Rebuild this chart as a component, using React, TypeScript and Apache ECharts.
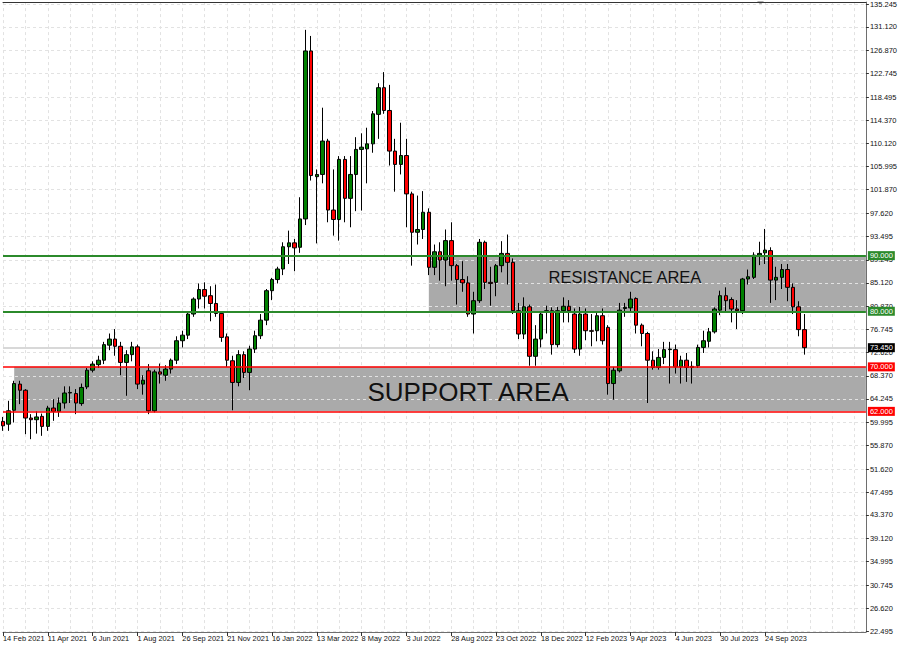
import React, { useEffect, useRef } from "react";
import * as echarts from "echarts";

// X-axis tick labels (every 8 weeks)
const dateLabels = [
  "14 Feb 2021", "11 Apr 2021", "6 Jun 2021", "1 Aug 2021", "26 Sep 2021", "21 Nov 2021",
  "16 Jan 2022", "13 Mar 2022", "8 May 2022", "3 Jul 2022", "28 Aug 2022", "23 Oct 2022",
  "18 Dec 2022", "12 Feb 2023", "9 Apr 2023", "4 Jun 2023", "30 Jul 2023", "24 Sep 2023",
];

// Y-axis tick labels
const priceTicks = [
  22.495, 26.62, 30.745, 34.995, 39.12, 43.37, 47.495, 51.62, 55.87, 59.995, 64.245, 68.37,
  72.62, 76.745, 80.87, 85.12, 89.245, 93.495, 97.62, 101.87, 105.995, 110.12, 114.37,
  118.495, 122.745, 126.87, 131.12, 135.245,
];

// Weekly OHLC
const opens = [
  60.2, 59.7, 62.2, 66.9, 65.8, 60.8, 60.5, 61.1, 59.3, 62.6, 62.0, 63.5, 65.3, 65.2, 63.4, 66.4,
  69.4, 70.4, 71.2, 73.9, 75.0, 73.7, 70.8, 72.2, 73.6, 66.9, 69.3, 62.1, 69.1, 68.5, 69.6, 71.2,
  74.7, 75.7, 79.5, 82.2, 83.9, 82.8, 81.4, 79.6, 75.4, 71.1, 67.2, 72.2, 69.0, 73.2, 75.6, 78.4,
  83.7, 85.7, 87.6, 91.6, 92.3, 91.5, 96.6, 126.8, 104.2, 104.6, 110.6, 98.2, 96.5, 107.3, 100.3, 104.6,
  109.1, 109.2, 110.1, 115.4, 120.2, 116.1, 108.8, 106.4, 108.0, 101.1, 94.2, 94.7, 97.8, 87.9, 90.7, 89.2,
  92.7, 88.2, 85.7, 85.1, 79.5, 81.9, 92.4, 85.2, 85.2, 88.2, 90.4, 88.8, 80.1, 75.9, 80.8, 71.9,
  75.0, 80.0, 80.1, 74.0, 80.1, 80.9, 79.5, 73.2, 79.5, 76.5, 76.5, 79.2, 77.1, 67.0, 69.3, 80.5,
  80.6, 82.3, 77.5, 76.0, 71.2, 69.9, 71.7, 73.1, 73.1, 70.0, 71.2, 70.1, 70.2, 73.5, 74.6, 76.3,
  80.2, 82.8, 82.1, 80.4, 80.1, 85.8, 86.1, 90.1, 90.5, 90.9, 85.6, 86.1, 87.5, 84.3, 80.8, 76.7,
];
const closes = [
  59.4, 62.1, 67.0, 65.8, 60.8, 60.5, 61.0, 59.3, 62.6, 62.0, 63.5, 65.3, 65.4, 63.5, 66.3, 69.4,
  70.5, 71.2, 74.0, 75.0, 73.7, 70.8, 72.2, 73.6, 66.9, 67.6, 62.1, 69.1, 68.7, 69.6, 71.2, 74.7,
  75.7, 79.5, 82.2, 83.9, 82.7, 81.4, 79.6, 75.3, 71.2, 67.2, 72.2, 69.0, 73.2, 75.6, 78.4, 83.7,
  85.7, 87.6, 91.6, 92.3, 91.4, 96.6, 126.8, 104.4, 104.6, 110.6, 98.2, 96.5, 107.3, 100.3, 104.6, 109.1,
  109.5, 110.1, 115.5, 120.2, 116.1, 108.8, 106.4, 108.0, 101.1, 94.2, 94.7, 97.8, 87.9, 90.7, 89.2, 92.7,
  88.2, 85.7, 85.1, 79.5, 81.9, 92.4, 85.2, 85.0, 88.2, 90.4, 88.8, 80.1, 75.9, 80.8, 71.9, 75.0,
  79.5, 80.1, 74.0, 80.1, 80.9, 80.1, 73.2, 79.5, 76.5, 76.4, 79.2, 74.7, 67.0, 69.4, 80.2, 80.7,
  82.2, 77.5, 76.0, 71.2, 69.9, 71.7, 73.1, 73.2, 70.0, 71.2, 69.9, 69.9, 73.5, 74.7, 76.3, 80.4,
  82.8, 81.9, 80.4, 80.1, 85.8, 86.2, 90.1, 90.4, 91.0, 85.6, 86.1, 87.5, 84.3, 80.8, 76.7, 73.45,
];
const lows = [
  58.5, 58.5, 60.0, 63.3, 57.9, 57.0, 58.0, 57.6, 58.5, 60.3, 61.0, 62.5, 63.5, 61.5, 63.0, 66.0,
  69.0, 69.8, 70.5, 73.0, 72.0, 68.5, 64.8, 71.0, 66.0, 65.0, 61.5, 61.8, 67.0, 67.5, 68.8, 70.5,
  73.5, 75.0, 79.0, 80.5, 80.5, 78.2, 79.0, 74.5, 70.0, 62.2, 66.5, 68.0, 65.8, 72.5, 75.0, 77.5,
  82.0, 85.0, 86.5, 88.5, 87.2, 90.5, 95.5, 103.5, 92.2, 103.0, 96.0, 93.6, 92.7, 96.0, 95.1, 98.0,
  98.1, 103.0, 108.5, 111.0, 115.5, 106.2, 101.5, 104.6, 95.1, 88.2, 92.0, 93.0, 86.5, 86.5, 85.5, 84.5,
  85.5, 81.2, 83.5, 79.0, 76.0, 81.5, 84.0, 81.0, 82.7, 87.0, 84.8, 79.5, 75.0, 75.0, 70.2, 70.2,
  73.5, 76.0, 72.2, 73.5, 78.0, 78.0, 72.5, 72.0, 74.8, 73.7, 74.6, 74.0, 65.0, 64.1, 69.0, 79.0,
  80.0, 76.0, 73.7, 63.5, 69.5, 69.5, 70.5, 67.0, 68.8, 67.0, 67.3, 67.0, 69.8, 72.5, 73.5, 76.0,
  79.3, 80.0, 78.0, 76.8, 79.5, 84.8, 85.8, 88.3, 88.5, 81.5, 82.0, 84.0, 81.8, 79.5, 75.5, 72.2,
];
const highs = [
  61.0, 63.9, 67.5, 67.5, 66.0, 61.5, 62.0, 61.6, 63.0, 64.2, 64.5, 66.5, 66.5, 66.0, 67.0, 69.8,
  71.0, 72.0, 74.5, 76.0, 76.8, 74.5, 73.0, 74.5, 74.0, 68.5, 70.5, 69.5, 70.6, 70.3, 71.5, 75.5,
  76.5, 80.0, 82.5, 85.0, 85.2, 84.5, 84.8, 80.0, 76.0, 72.0, 73.0, 72.8, 73.8, 76.5, 79.5, 84.0,
  86.0, 88.0, 92.4, 94.5, 93.0, 100.5, 130.6, 129.5, 105.5, 116.6, 111.0, 105.5, 107.9, 107.9, 107.9, 111.3,
  112.0, 113.0, 116.0, 121.0, 123.0, 120.7, 111.0, 113.9, 111.0, 101.5, 100.8, 101.6, 98.5, 92.0, 92.4, 94.7,
  96.0, 88.5, 89.0, 86.3, 83.5, 93.0, 92.7, 88.0, 88.5, 92.6, 93.8, 89.5, 81.5, 82.5, 81.2, 77.5,
  80.0, 81.0, 80.7, 80.8, 82.5, 82.0, 80.5, 80.8, 80.5, 79.5, 80.0, 80.5, 77.5, 70.0, 81.5, 81.5,
  83.5, 82.5, 77.8, 76.3, 72.8, 73.2, 74.5, 74.5, 74.0, 72.0, 72.5, 71.0, 74.0, 76.5, 77.0, 80.7,
  83.7, 84.3, 82.5, 82.0, 86.0, 87.5, 90.6, 92.5, 94.8, 91.5, 88.0, 88.5, 88.5, 85.0, 81.8, 79.5,
];

const supportLevels = [70, 62];
const resistanceLevels = [90, 80];
const currentPrice = 73.45;

const SLOTS = 155; // weekly slots incl. empty right margin

export default function App() {
  const ref = useRef<HTMLDivElement | null>(null);

  useEffect(() => {
    if (!ref.current) return;
    const chart = echarts.init(ref.current, undefined, { renderer: "svg" });

    const start = Date.UTC(2021, 1, 14);
    const categories: string[] = [];
    for (let i = 0; i < SLOTS; i++) {
      const d = new Date(start + i * 7 * 86400000);
      categories.push(d.toISOString().slice(0, 10));
    }
    const nBars = opens.length;
    const candleData = opens.map((o, i) => [o, closes[i], lows[i], highs[i]]);
    const font = "'Liberation Sans', Arial, sans-serif";
    const lastCat = categories[SLOTS - 1];

    const levelLine = (v: number, color: string, width: number) => ({
      yAxis: v,
      lineStyle: { color, width, type: "solid" },
      label: {
        show: true,
        position: "end",
        distance: 2,
        formatter: v.toFixed(3),
        backgroundColor: color,
        color: "#fff",
        fontSize: 7.5,
        fontFamily: font,
        padding: [1, 2, 0, 2],
      },
    });

    chart.setOption({
      animation: false,
      backgroundColor: "#ffffff",
      grid: { left: 1, right: 31, top: 1, bottom: 14, containLabel: false },
      xAxis: [
        {
          type: "category",
          data: categories,
          boundaryGap: false,
          axisLine: { show: true, lineStyle: { color: "#6e6e6e", width: 1 } },
          axisTick: {
            show: true,
            interval: (i: number) => i % 8 === 0 && i < nBars,
            length: 4,
            lineStyle: { color: "#333" },
          },
          axisLabel: {
            show: true,
            interval: (i: number) => i % 8 === 0 && i < nBars,
            formatter: (_v: string, i: number) => dateLabels[i / 8] ?? "",
            align: "left",
            margin: 3,
            fontSize: 7.4,
            fontFamily: font,
            color: "#111",
          },
          splitLine: {
            show: true,
            interval: (i: number) => i % 4 === 0,
            lineStyle: { color: "#e2e2e2", type: [3, 3], width: 1 },
          },
        },
        {
          type: "category",
          data: categories,
          boundaryGap: false,
          position: "top",
          axisLine: { show: true, lineStyle: { color: "#333", width: 1 } },
          axisTick: { show: false },
          axisLabel: { show: false },
          splitLine: { show: false },
        },
      ],
      yAxis: {
        type: "value",
        position: "right",
        min: 22.33,
        max: 135.59,
        scale: true,
        axisLine: { show: true, lineStyle: { color: "#6e6e6e", width: 1 } },
        axisTick: { show: true, length: 3, customValues: priceTicks, lineStyle: { color: "#333" } },
        axisLabel: {
          show: true,
          customValues: priceTicks,
          formatter: (v: number) => v.toFixed(3),
          margin: 4,
          fontSize: 7.5,
          fontFamily: font,
          color: "#111",
        },
        splitLine: { show: false },
      },
      graphic: [
        {
          type: "polygon",
          shape: { points: [[757, 1], [764, 1], [760.5, 5]] },
          style: { fill: "#b0b0b0" },
          silent: true,
        },
      ],
      series: [
        {
          name: "areas",
          type: "line",
          data: [],
          z: 1,
          silent: true,
          markArea: {
            silent: true,
            z: 1,
            itemStyle: { color: "#aaaaaa", opacity: 1 },
            label: { show: false },
            data: [
              [
                { xAxis: categories[2], yAxis: supportLevels[0] },
                { xAxis: lastCat, yAxis: supportLevels[1] },
              ],
              [
                { xAxis: categories[76], yAxis: resistanceLevels[0] },
                { xAxis: lastCat, yAxis: resistanceLevels[1] },
              ],
            ],
          },
        },
        {
          name: "grid",
          type: "line",
          data: [],
          silent: true,
          markLine: {
            silent: true,
            z: 2,
            symbol: ["none", "none"],
            label: { show: false },
            lineStyle: { color: "#e2e2e2", type: [3, 3], width: 1 },
            data: priceTicks.map((v) => ({ yAxis: v })),
          },
        },
        {
          name: "current",
          type: "line",
          data: [],
          silent: true,
          markLine: {
            silent: true,
            z: 2,
            symbol: ["none", "none"],
            data: [
              {
                yAxis: currentPrice,
                lineStyle: { color: "#d8d8d8", width: 2, type: "solid" },
                label: {
                  show: true,
                  position: "end",
                  distance: 2,
                  formatter: currentPrice.toFixed(3),
                  backgroundColor: "#000",
                  color: "#fff",
                  fontSize: 7.5,
                  fontFamily: font,
                  padding: [1, 2, 0, 2],
                },
              },
            ],
          },
        },
        {
          name: "price",
          type: "candlestick",
          data: candleData,
          z: 3,
          barWidth: 4,
          itemStyle: {
            color: "#008000",
            color0: "#ff0000",
            borderColor: "#000000",
            borderColor0: "#000000",
            borderColorDoji: "#000000",
            borderWidth: 1,
          },
        },
        {
          name: "levels",
          type: "line",
          data: [],
          silent: true,
          markLine: {
            silent: true,
            z: 5,
            symbol: ["none", "none"],
            data: [
              levelLine(resistanceLevels[0], "#2b8a2b", 1.8),
              levelLine(resistanceLevels[1], "#2b8a2b", 1.8),
              levelLine(supportLevels[0], "#ff0000", 1.6),
              levelLine(supportLevels[1], "#ff0000", 1.6),
            ],
          },
          markPoint: {
            silent: true,
            z: 6,
            symbol: "rect",
            symbolSize: 1,
            itemStyle: { color: "rgba(0,0,0,0)" },
            data: [
              {
                coord: [categories[83], 65.46],
                label: {
                  show: true,
                  position: "inside",
                  formatter: "SUPPORT AREA",
                  fontSize: 26,
                  fontFamily: font,
                  color: "#111",
                },
              },
              {
                coord: [categories[111], 86.1],
                label: {
                  show: true,
                  position: "inside",
                  formatter: "RESISTANCE AREA",
                  fontSize: 16.5,
                  fontFamily: font,
                  color: "#111",
                },
              },
            ],
          },
        },
      ],
    });

    return () => chart.dispose();
  }, []);

  return (
    <div
      ref={ref}
      style={{ position: "fixed", left: 0, top: 0, width: 900, height: 646, background: "#fff" }}
    />
  );
}
